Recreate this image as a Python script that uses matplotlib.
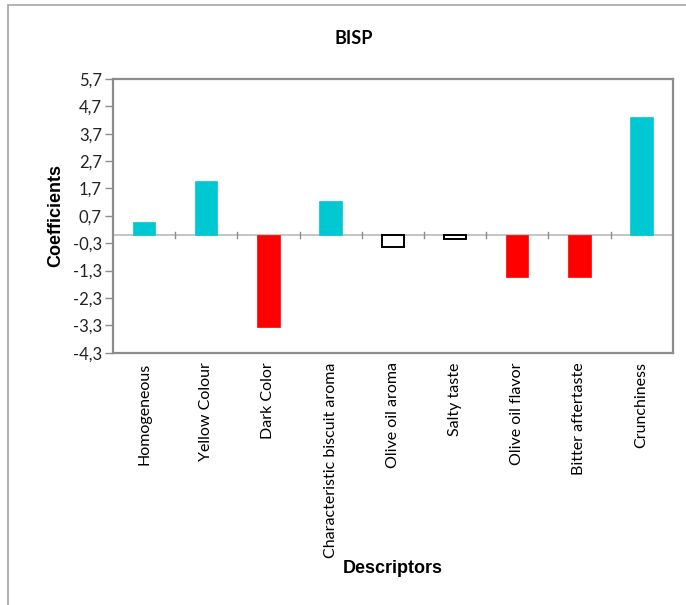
import matplotlib
matplotlib.use("Agg")
import matplotlib.pyplot as plt
import numpy as np
from matplotlib.patches import Rectangle

# Descriptor coefficients
descriptors = ["Homogeneous", "Yellow Colour", "Dark Color",
               "Characteristic biscuit aroma", "Olive oil aroma", "Salty taste",
               "Olive oil flavor", "Bitter aftertaste", "Crunchiness"]
coefficients = [0.47, 1.96, -3.37, 1.25, -0.43, -0.16, -1.52, -1.52, 4.31]
# significance class of each bar: pos / neg / ns
signif = ["pos", "pos", "neg", "pos", "ns", "ns", "neg", "neg", "pos"]
ytick_vals = [-4.3, -3.3, -2.3, -1.3, -0.3, 0.7, 1.7, 2.7, 3.7, 4.7, 5.7]

CYAN = '#00C8D2'
RED = '#FF0000'
GRAY = '#8c8c8c'

face = {"pos": CYAN, "neg": RED, "ns": 'white'}
edge = {"pos": CYAN, "neg": RED, "ns": 'black'}

fig = plt.figure(figsize=(6.86, 6.05), dpi=100)
ax = fig.add_axes([0.1647, 0.417, 0.8159, 0.4524])

# outer chart frame like the spreadsheet chart border
fig.patches.append(Rectangle((8 / 686, -0.01), 1.1, 1 - 5 / 605 + 0.01,
                             transform=fig.transFigure, fill=False,
                             edgecolor='#a6a6a6', linewidth=1.2))

x = np.arange(len(descriptors))
for xi, v, s in zip(x, coefficients, signif):
    ax.bar(xi, v, width=0.36, color=face[s], edgecolor=edge[s],
           linewidth=1.4 if s == "ns" else 0.5, zorder=3)

ax.set_xlim(-0.5, len(descriptors) - 0.5)
ax.set_ylim(-4.3, 5.7)

# zero line with category separators
ax.axhline(0, color='#bfbfbf', linewidth=1.3, zorder=2)
for b in np.arange(0.5, len(descriptors) - 1, 1.0):
    ax.plot([b, b], [-0.12, 0.12], color=GRAY, linewidth=1.0, zorder=2)

ax.set_yticks(ytick_vals)
ax.set_yticklabels([f"{v:.1f}".replace('.', ',') for v in ytick_vals],
                   fontsize=12, family='Lato', color='#222222')
ax.tick_params(axis='y', direction='out', length=6, width=1, color=GRAY, pad=2)

ax.set_xticks(x)
ax.set_xticklabels(descriptors, rotation=90, fontsize=11.5, family='Lato',
                   va='top', ha='center')
ax.tick_params(axis='x', length=0, pad=7)

for sp in ax.spines.values():
    sp.set_color(GRAY)
    sp.set_linewidth(1.6)

ax.set_ylabel("Coefficients", fontsize=13, fontweight='bold',
              family='Liberation Sans', va='center')
ax.yaxis.set_label_coords(-0.103, 0.5)
ax.set_xlabel("Descriptors", fontsize=13, fontweight='bold',
              family='Liberation Sans', va='center')
ax.xaxis.set_label_coords(0.5, -0.79)

fig.text(354 / 686, 1 - 38 / 605, "BISP", fontsize=13, fontweight='bold',
         family='Lato', ha='center', va='center')

fig.savefig("out.png", dpi=100)
